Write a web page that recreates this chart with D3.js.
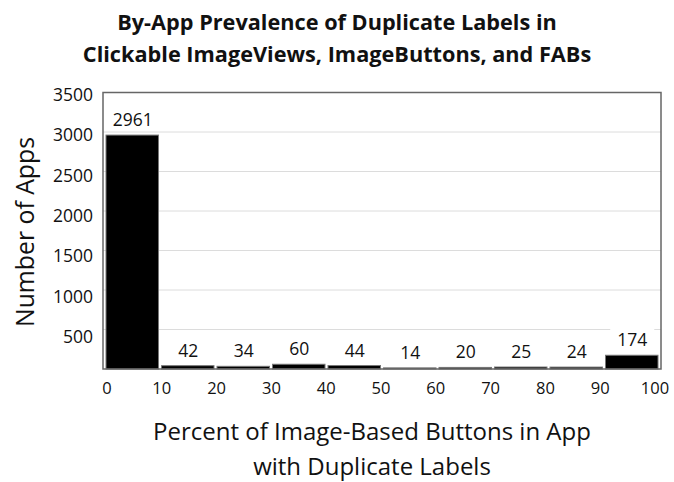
<!DOCTYPE html>
<html><head><meta charset="utf-8">
<script src="https://cdn.jsdelivr.net/npm/d3@7"></script>
<style>
html,body{margin:0;padding:0;background:#fff;}
text{font-family:"Open Sans",sans-serif;fill:#111;}
</style></head>
<body><svg id="c" width="674" height="482"></svg>
<script>
const binStarts = [0,10,20,30,40,50,60,70,80,90];
const counts = [2961,42,34,60,44,14,20,25,24,174];
const xTickLabels = [0,10,20,30,40,50,60,70,80,90,100];
const yTickLabels = [500,1000,1500,2000,2500,3000,3500];
const titleLines = ["By-App Prevalence of Duplicate Labels in","Clickable ImageViews, ImageButtons, and FABs"];
const xTitleLines = ["Percent of Image-Based Buttons in App","with Duplicate Labels"];
const yTitle = "Number of Apps";

const svg = d3.select("#c");
const L=103, R=661, T=92.5, B=369;
const x = d3.scaleLinear().domain([0,100]).range([L+2,R-1]);
const y = d3.scaleLinear().domain([0,3500]).range([B,T]);
const xl = d3.scaleLinear().domain([0,100]).range([107,655]);
const yl = d3.scaleLinear().domain([500,3500]).range([337,95]);

// gridlines
svg.append("g").selectAll("line").data(yTickLabels.slice(0,-1)).join("line")
  .attr("x1",L).attr("x2",R).attr("y1",d=>y(d)).attr("y2",d=>y(d))
  .attr("stroke","#dcdcdc").attr("stroke-width",1);

// bars
svg.append("g").selectAll("rect").data(counts).join("rect")
  .attr("x",(d,i)=>x(binStarts[i])+1)
  .attr("width",(d,i)=>x(binStarts[i]+10)-x(binStarts[i])-3)
  .attr("y",d=>y(d)).attr("height",d=>B-y(d))
  .attr("fill","#000").attr("stroke","#777").attr("stroke-width",1);

// data labels with white background
const lab = svg.append("g").selectAll("g").data(counts).join("g")
  .attr("transform",(d,i)=>`translate(${(x(binStarts[i])+x(binStarts[i]+10))/2},${y(d)-9})`);
lab.append("rect").attr("x",-22).attr("y",-18).attr("width",44).attr("height",22).attr("fill","#fff");
lab.append("text").attr("text-anchor","middle").attr("font-size",17.5).text(d=>d);

// frame
svg.append("rect").attr("x",L).attr("y",T).attr("width",R-L).attr("height",B-T)
  .attr("fill","none").attr("stroke","#666").attr("stroke-width",1.5);

// y tick labels
svg.append("g").selectAll("text").data(yTickLabels).join("text")
  .attr("x",93).attr("y",d=>yl(d)).attr("dy","0.35em").attr("text-anchor","end")
  .attr("font-size",17.5).text(d=>d);
// x tick labels
svg.append("g").selectAll("text").data(xTickLabels).join("text")
  .attr("x",d=>xl(d)).attr("y",394).attr("text-anchor","middle")
  .attr("font-size",16.5).text(d=>d);

// titles
svg.append("g").selectAll("text").data(titleLines).join("text")
  .attr("x",337).attr("y",(d,i)=>30+i*32).attr("text-anchor","middle")
  .attr("font-size",21.7).attr("font-weight","bold").text(d=>d);
svg.append("g").selectAll("text").data(xTitleLines).join("text")
  .attr("x",372).attr("y",(d,i)=>440+i*35).attr("text-anchor","middle")
  .attr("font-size",24).text(d=>d);
svg.append("text").attr("transform","translate(34,232) rotate(-90)")
  .attr("text-anchor","middle").attr("font-size",24.8).text(yTitle);
</script></body></html>
